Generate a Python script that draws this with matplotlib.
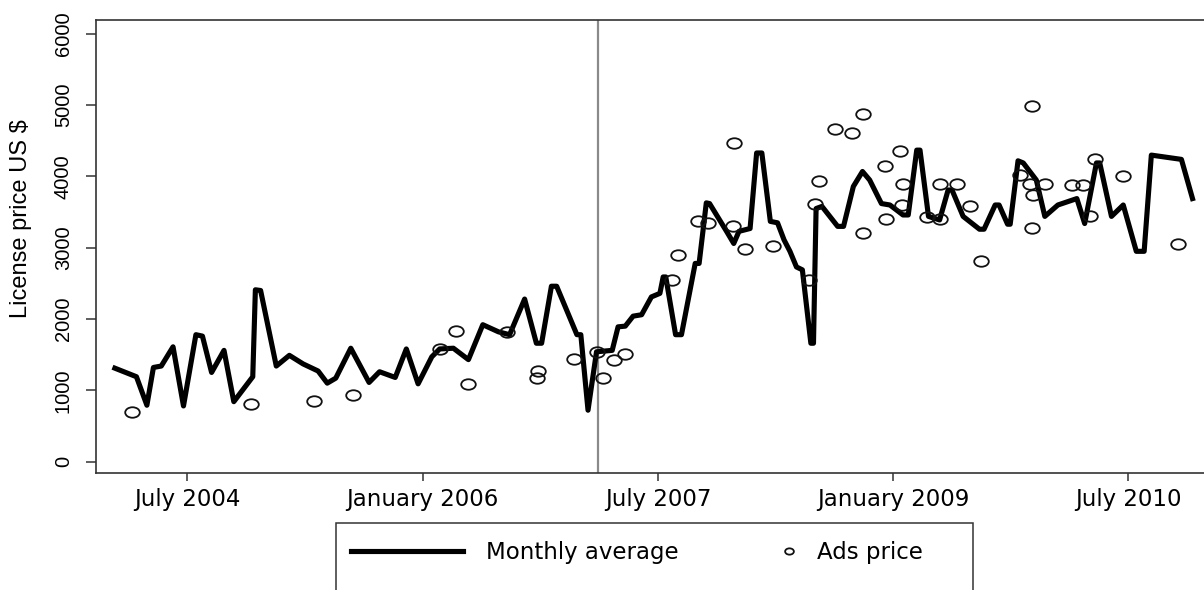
import numpy as np
import matplotlib.pyplot as plt
from matplotlib.path import Path
from matplotlib.patches import Rectangle

# time axis in months, 0 = January 2004
avg_month = [0.45, 2.1, 2.9, 3.4, 4.0, 4.9, 5.7, 6.65, 7.15, 7.85, 8.8, 9.55,
             11.0, 11.2, 11.6, 12.8, 13.8, 14.85, 16.0, 16.7, 17.35, 18.5,
             19.9, 20.7, 21.9, 22.75, 23.65, 24.7, 25.3, 26.35, 27.5, 28.6,
             29.8, 30.65, 31.8, 32.7, 33.1, 33.85, 34.25, 35.8, 36.1, 36.65,
             37.3, 38.5, 38.95, 39.5, 40.1, 40.75, 41.5, 42.15, 42.4, 42.6,
             43.35, 43.8, 44.85, 45.15, 45.7, 45.95, 47.25, 47.8, 48.2, 49.05,
             49.55, 49.95, 50.6, 51.15, 51.65, 52.1, 52.6, 53.05, 53.7, 53.9,
             54.1, 54.55, 55.75, 56.2, 56.95, 57.65, 58.2, 59.1, 59.75, 60.75,
             61.15, 61.8, 62.05, 62.7, 63.55, 64.2, 64.5, 65.35, 66.6, 66.95,
             67.8, 68.1, 68.75, 68.95, 69.55, 69.95, 70.95, 71.6, 72.6, 74.05,
             74.65, 75.55, 75.8, 76.7, 77.6, 78.6, 79.2, 79.75, 82.05, 82.9]
avg_price = [1310, 1190, 790, 1320, 1340, 1610, 780, 1780, 1760, 1250, 1560, 840,
             1190, 2410, 2400, 1340, 1490, 1370, 1270, 1100, 1170, 1590,
             1110, 1260, 1180, 1580, 1090, 1470, 1580, 1590, 1430, 1920,
             1820, 1780, 2280, 1660, 1660, 2460, 2460, 1780, 1780, 720,
             1540, 1560, 1890, 1900, 2040, 2060, 2310, 2360, 2590, 2590,
             1780, 1780, 2780, 2780, 3630, 3620, 3230, 3060, 3230, 3270,
             4330, 4330, 3370, 3350, 3110, 2950, 2730, 2690, 1660, 1660,
             3550, 3580, 3300, 3300, 3860, 4070, 3950, 3620, 3600, 3460,
             3460, 4370, 4370, 3440, 3390, 3810, 3810, 3440, 3260, 3260,
             3600, 3600, 3330, 3330, 4220, 4190, 3950, 3440, 3600, 3690,
             3340, 4190, 4190, 3440, 3600, 2950, 2950, 4300, 4240, 3690]

ad_month = [1.75, 10.85, 15.7, 18.7, 25.3, 26.55, 27.45, 30.45, 32.75, 32.85,
            35.6, 37.3, 37.8, 38.65, 39.45, 43.1, 43.5, 45.1, 45.85, 47.8,
            47.75, 48.65, 50.8, 53.55, 54.0, 54.35, 55.55, 56.85, 57.7, 57.7,
            59.4, 59.45, 60.55, 60.65, 60.75, 62.6, 63.6, 63.6, 64.85, 65.85,
            66.75, 69.7, 70.45, 70.6, 70.6, 70.7, 71.6, 73.65, 74.55, 75.05,
            75.45, 77.55, 81.8]
ad_price = [690, 810, 850, 940, 1580, 1830, 1090, 1820, 1170, 1270,
            1440, 1540, 1170, 1430, 1510, 2550, 2900, 3370, 3350, 4470,
            3300, 2980, 3030, 2550, 3610, 3930, 4660, 4610, 4880, 3200,
            4150, 3410, 4360, 3600, 3900, 3430, 3900, 3400, 3900, 3590,
            2820, 4020, 3900, 4990, 3280, 3740, 3900, 3880, 3880, 3440,
            4250, 4000, 3050]

tick_month = [6, 24, 42, 60, 78]
tick_label = ["July 2004", "January 2006", "July 2007", "January 2009", "July 2010"]
price_ticks = [0, 1000, 2000, 3000, 4000, 5000, 6000]
break_month = 37.38

narrow = ["Liberation Sans Narrow", "Liberation Sans", "DejaVu Sans"]
wide = ["DejaVu Sans"]
dark = "#333333"

# slightly squashed circle for the ads markers
circ = Path.unit_circle()
oval = Path(circ.vertices * [1.0, 0.72], circ.codes)

fig = plt.figure(figsize=(12.04, 5.9), dpi=100)
ax = fig.add_axes([0.0801, 0.1983, 0.9248, 0.7678])

ax.axvline(break_month, color="#8a8a8a", lw=1.6, zorder=1)
line, = ax.plot(avg_month, avg_price, color="black", lw=3.7,
                solid_joinstyle="round", zorder=3)
dots, = ax.plot(ad_month, ad_price, linestyle="none", marker=oval,
                markersize=10.5, markerfacecolor="none",
                markeredgecolor="#111111", markeredgewidth=1.3, zorder=4)

ax.set_xlim(-0.96, 84.23)
ax.set_ylim(-161, 6196)

ax.set_xticks(tick_month)
ax.set_xticklabels(tick_label, family=wide, fontsize=16.5)
ax.set_yticks(price_ticks)
ax.set_yticklabels([str(v) for v in price_ticks], rotation=90, va="center",
                   family=narrow, fontsize=14.5)
ax.tick_params(axis="x", length=6, width=1.1, color=dark, pad=5)
ax.tick_params(axis="y", length=7, width=1.1, color=dark, pad=10)
ax.set_ylabel("License price US $", family=narrow, fontsize=17)
ax.yaxis.set_label_coords(-0.058, 0.561)

for side in ["left", "bottom", "top", "right"]:
    ax.spines[side].set_color(dark)
    ax.spines[side].set_linewidth(1.2)

# legend box runs off the bottom edge
fig.patches.append(Rectangle((0.279, -0.1), 0.529, 0.2136, transform=fig.transFigure,
                             fill=False, edgecolor=dark, lw=1.1))
fig.legend([line], ["Monthly average"], loc="center left",
           bbox_to_anchor=(0.2915, 0.063), frameon=False, borderpad=0,
           borderaxespad=0, handlelength=4.9, handletextpad=1.0,
           prop={"family": wide, "size": 16.5})
fig.legend([dots], ["Ads price"], loc="center left",
           bbox_to_anchor=(0.646, 0.063), frameon=False, borderpad=0,
           borderaxespad=0, handlelength=1.0, handletextpad=0.7,
           markerscale=0.6, prop={"family": wide, "size": 16.5})

fig.savefig("out.png", dpi=100)
